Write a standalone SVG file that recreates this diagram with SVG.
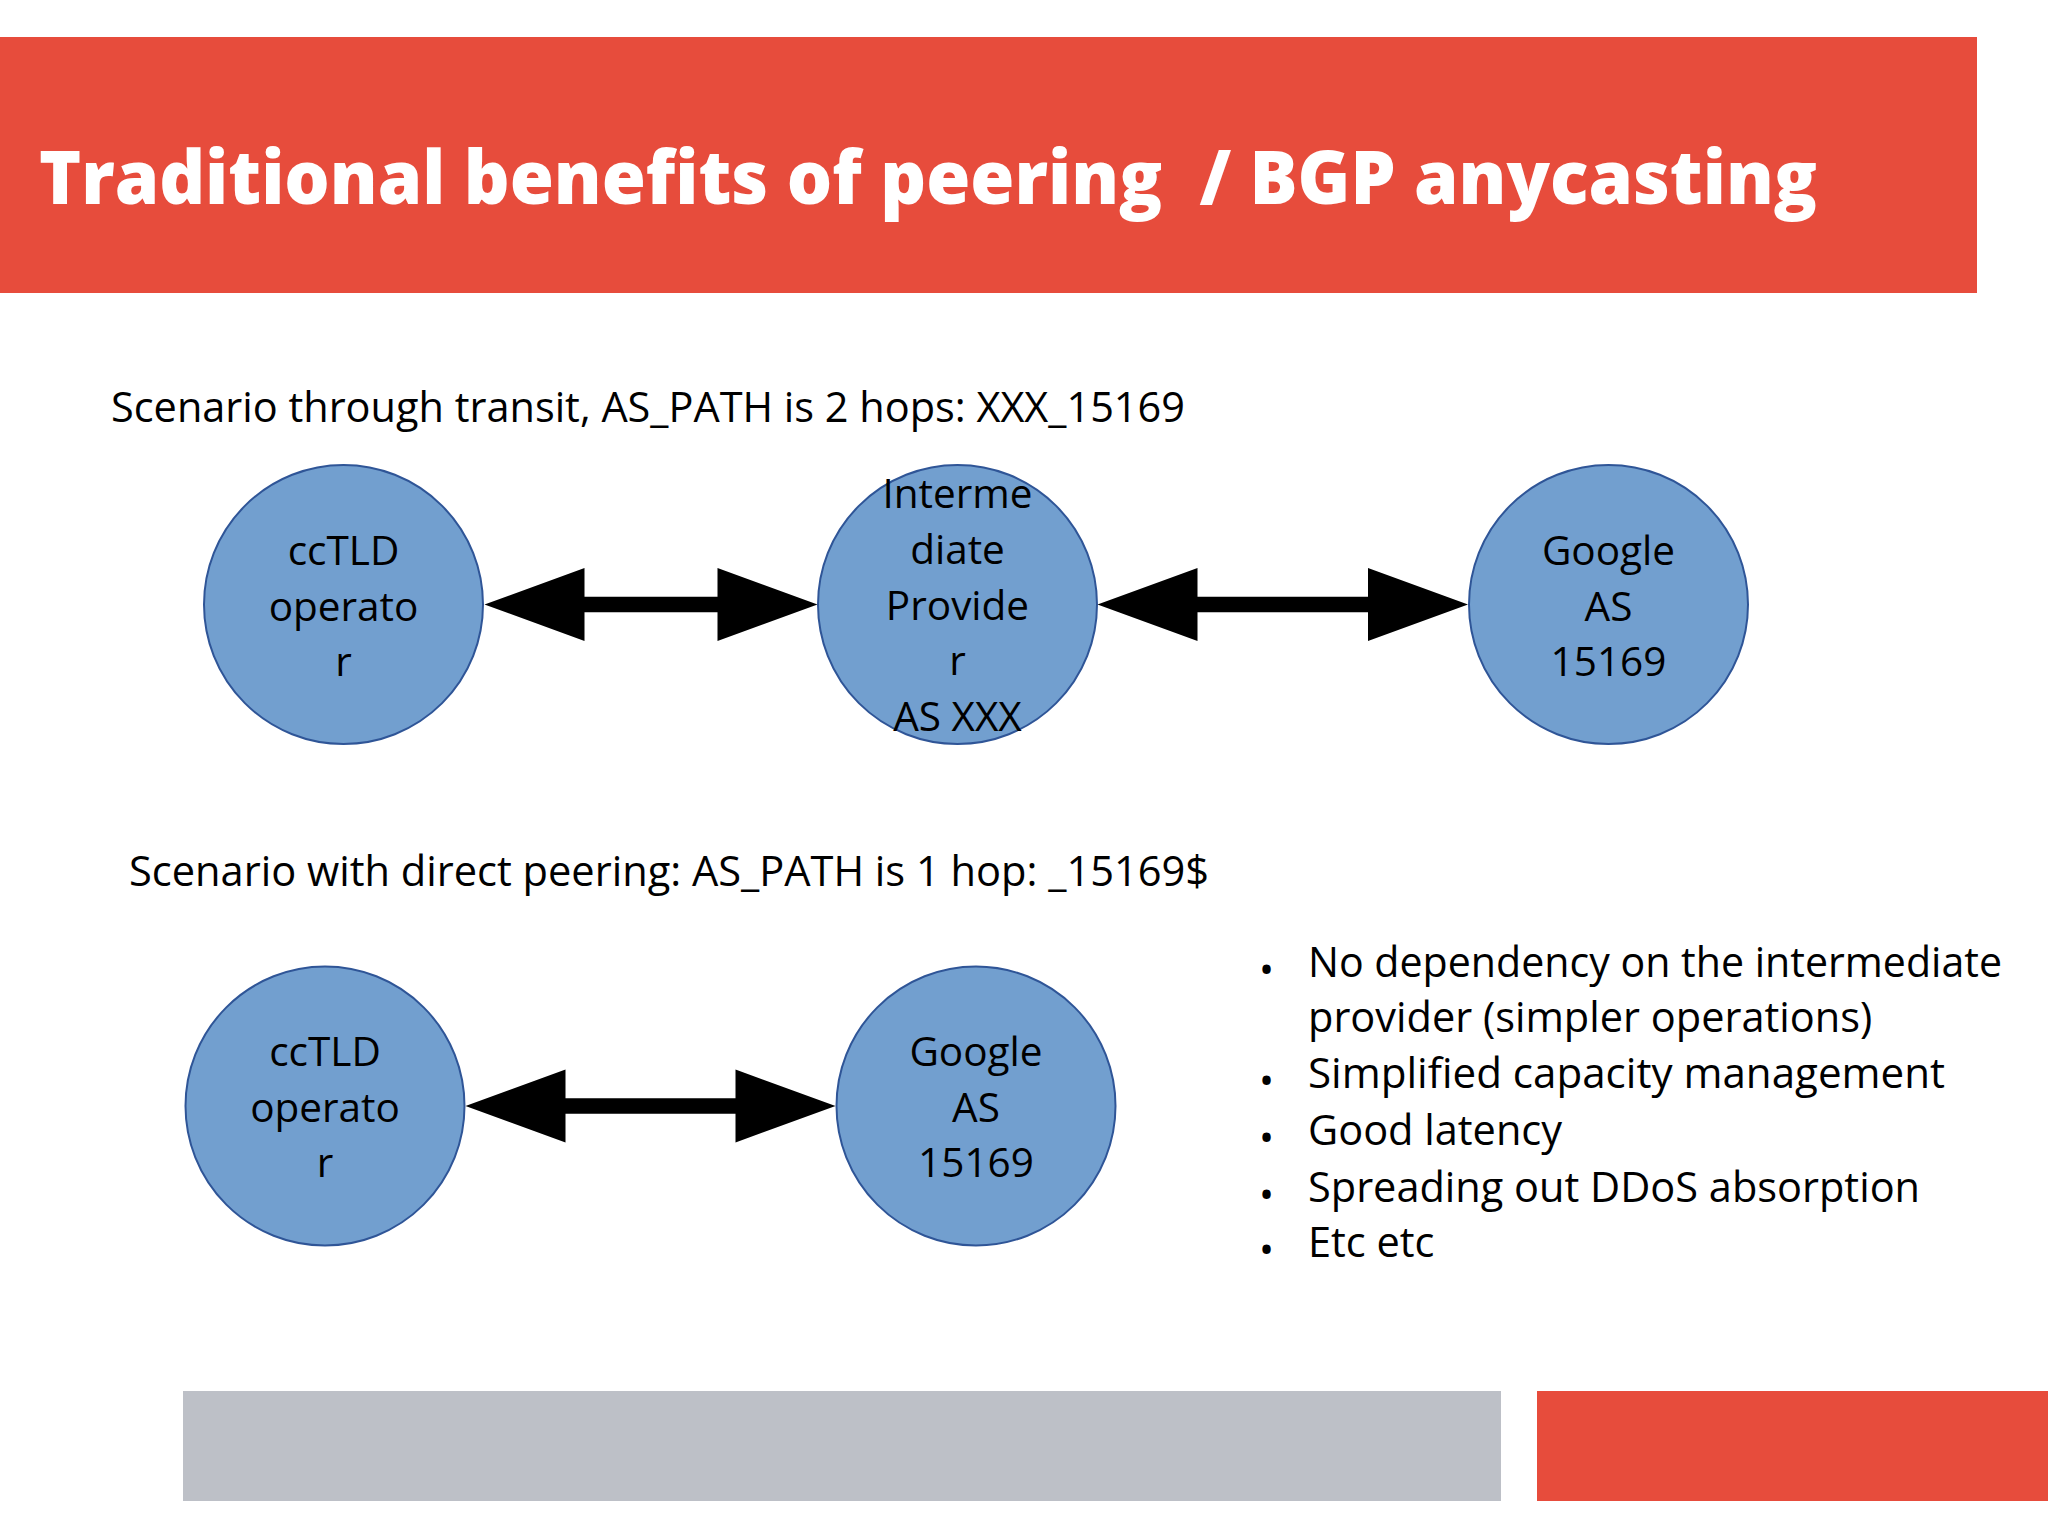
<svg xmlns="http://www.w3.org/2000/svg" width="2048" height="1537" viewBox="0 0 2048 1537">
  <style>
    .title { font-family: "Open Sans", "Noto Sans", "Liberation Sans", sans-serif; font-weight: 800; font-size: 75px; fill: #ffffff; white-space: pre; }
    .body { font-family: "Open Sans", "Noto Sans", "Liberation Sans", sans-serif; font-size: 41.5px; fill: #000000; }
    .node-label { font-family: "Open Sans", "Noto Sans", "Liberation Sans", sans-serif; font-size: 40.5px; fill: #000000; text-anchor: middle; }
    .bullet { font-family: "Open Sans", "Noto Sans", "Liberation Sans", sans-serif; font-size: 40px; fill: #000000; }
    .node-shape { fill: #729fcf; stroke: #2f5597; stroke-width: 2; }
    .arrow { fill: #000000; stroke: none; }
  </style>
  <rect x="0" y="0" width="2048" height="1537" fill="#ffffff"/>

  <!-- Header banner -->
  <rect x="0" y="37" width="1977" height="256" fill="#e74c3c"/>
  <text class="title" x="39" y="204" textLength="1778" lengthAdjust="spacingAndGlyphs" xml:space="preserve">Traditional benefits of peering  / BGP anycasting</text>

  <!-- Scenario captions -->
  <text class="body" x="111" y="422" textLength="1074" lengthAdjust="spacingAndGlyphs">Scenario through transit, AS_PATH is 2 hops: XXX_15169</text>
  <text class="body" x="129" y="886" textLength="1080" lengthAdjust="spacingAndGlyphs">Scenario with direct peering: AS_PATH is 1 hop: _15169$</text>

  <!-- Connectors -->
  <g id="connectors">
    <polygon id="arrow-cctld-intermediate" class="arrow" points="484.5,604.5 584.5,568 584.5,596.7 717.5,596.7 717.5,568 817.5,604.5 717.5,641 717.5,612.3 584.5,612.3 584.5,641"/>
    <polygon id="arrow-intermediate-google" class="arrow" points="1097.5,604.5 1197.5,568 1197.5,596.7 1368,596.7 1368,568 1468,604.5 1368,641 1368,612.3 1197.5,612.3 1197.5,641"/>
    <polygon id="arrow-cctld-google-direct" class="arrow" points="465.5,1106 565.5,1069.5 565.5,1098.2 735.5,1098.2 735.5,1069.5 835.5,1106 735.5,1142.5 735.5,1113.8 565.5,1113.8 565.5,1142.5"/>
  </g>

  <!-- Top row nodes -->
  <g id="node-cctld-transit">
    <circle class="node-shape" cx="343.5" cy="604.5" r="139.5"/>
    <text class="node-label" x="343.5" y="565">ccTLD</text>
    <text class="node-label" x="343.5" y="621">operato</text>
    <text class="node-label" x="343.5" y="676">r</text>
  </g>
  <g id="node-intermediate">
    <circle class="node-shape" cx="957.5" cy="604.5" r="139.5"/>
    <text class="node-label" x="957.5" y="508">Interme</text>
    <text class="node-label" x="957.5" y="564">diate</text>
    <text class="node-label" x="957.5" y="620">Provide</text>
    <text class="node-label" x="957.5" y="675">r</text>
    <text class="node-label" x="957.5" y="731">AS XXX</text>
  </g>
  <g id="node-google-transit">
    <circle class="node-shape" cx="1608.5" cy="604.5" r="139.5"/>
    <text class="node-label" x="1608.5" y="565">Google</text>
    <text class="node-label" x="1608.5" y="621">AS</text>
    <text class="node-label" x="1608.5" y="676">15169</text>
  </g>

  <!-- Bottom row nodes -->
  <g id="node-cctld-direct">
    <circle class="node-shape" cx="325" cy="1106" r="139.5"/>
    <text class="node-label" x="325" y="1066">ccTLD</text>
    <text class="node-label" x="325" y="1122">operato</text>
    <text class="node-label" x="325" y="1177">r</text>
  </g>
  <g id="node-google-direct">
    <circle class="node-shape" cx="976" cy="1106" r="139.5"/>
    <text class="node-label" x="976" y="1066">Google</text>
    <text class="node-label" x="976" y="1122">AS</text>
    <text class="node-label" x="976" y="1177">15169</text>
  </g>

  <!-- Bullet list -->
  <g id="benefits-list">
    <text class="bullet" x="1259" y="984">•</text>
    <text class="body" x="1308" y="977" textLength="694" lengthAdjust="spacingAndGlyphs">No dependency on the intermediate</text>
    <text class="body" x="1308" y="1032">provider (simpler operations)</text>
    <text class="bullet" x="1259" y="1095">•</text>
    <text class="body" x="1308" y="1088" textLength="637" lengthAdjust="spacingAndGlyphs">Simplified capacity management</text>
    <text class="bullet" x="1259" y="1152">•</text>
    <text class="body" x="1308" y="1145">Good latency</text>
    <text class="bullet" x="1259" y="1209">•</text>
    <text class="body" x="1308" y="1202">Spreading out DDoS absorption</text>
    <text class="bullet" x="1259" y="1264">•</text>
    <text class="body" x="1308" y="1257">Etc etc</text>
  </g>

  <!-- Footer bars -->
  <rect x="183" y="1391" width="1318" height="110" fill="#bdc0c7"/>
  <rect x="1537" y="1391" width="511" height="110" fill="#e74c3c"/>
</svg>
